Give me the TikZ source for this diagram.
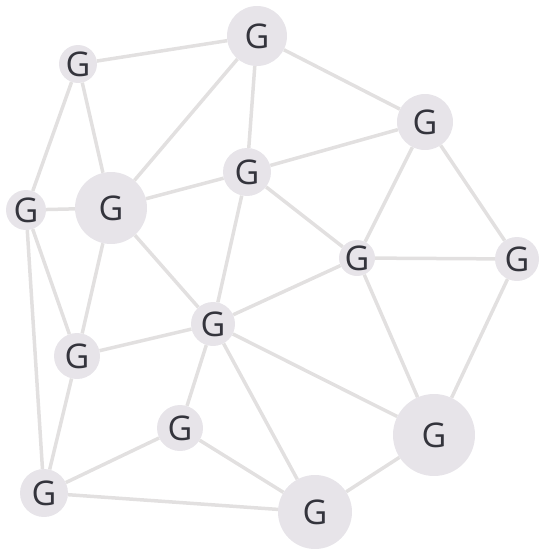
\documentclass[tikz,border=0pt]{standalone}
\usepackage{fontspec}
\setmainfont{Open Sans}
\definecolor{nodefill}{HTML}{E7E4E9}
\definecolor{edgecol}{HTML}{E2E0E0}
\definecolor{txt}{HTML}{34343C}
\begin{document}
\begin{tikzpicture}[x=1pt,y=-1pt,
  gnode/.style={circle,fill=nodefill,inner sep=0pt,text=txt,font=\fontsize{34}{34}\selectfont},
  edge/.style={draw=edgecol,line width=3.5pt}]
\useasboundingbox (0,0) rectangle (538,551);
\node[gnode,minimum size=38pt] (A) at (78,64) {G};
\node[gnode,minimum size=60pt] (B) at (257,36) {G};
\node[gnode,minimum size=56pt] (C) at (425,122) {G};
\node[gnode,minimum size=48pt] (D) at (247,172) {G};
\node[gnode,minimum size=72pt] (E) at (111,208) {G};
\node[gnode,minimum size=40pt] (F) at (26,210) {G};
\node[gnode,minimum size=36pt] (H) at (357,258) {G};
\node[gnode,minimum size=44pt] (I) at (517,259) {G};
\node[gnode,minimum size=44pt] (J) at (213,324) {G};
\node[gnode,minimum size=46pt] (K) at (77,356) {G};
\node[gnode,minimum size=46pt] (L) at (180,428) {G};
\node[gnode,minimum size=82pt] (M) at (434,435) {G};
\node[gnode,minimum size=48pt] (N) at (44,493) {G};
\node[gnode,minimum size=74pt] (O) at (315,512) {G};
\foreach \a/\b in {A/B,A/E,A/F,B/E,B/D,B/C,C/D,C/H,C/I,D/E,D/H,D/J,E/F,E/J,E/K,F/K,F/N,H/I,H/J,H/M,I/M,J/K,J/L,J/M,J/O,K/N,L/N,L/O,N/O,M/O}
  \draw[edge] (\a) -- (\b);
\end{tikzpicture}
\end{document}
